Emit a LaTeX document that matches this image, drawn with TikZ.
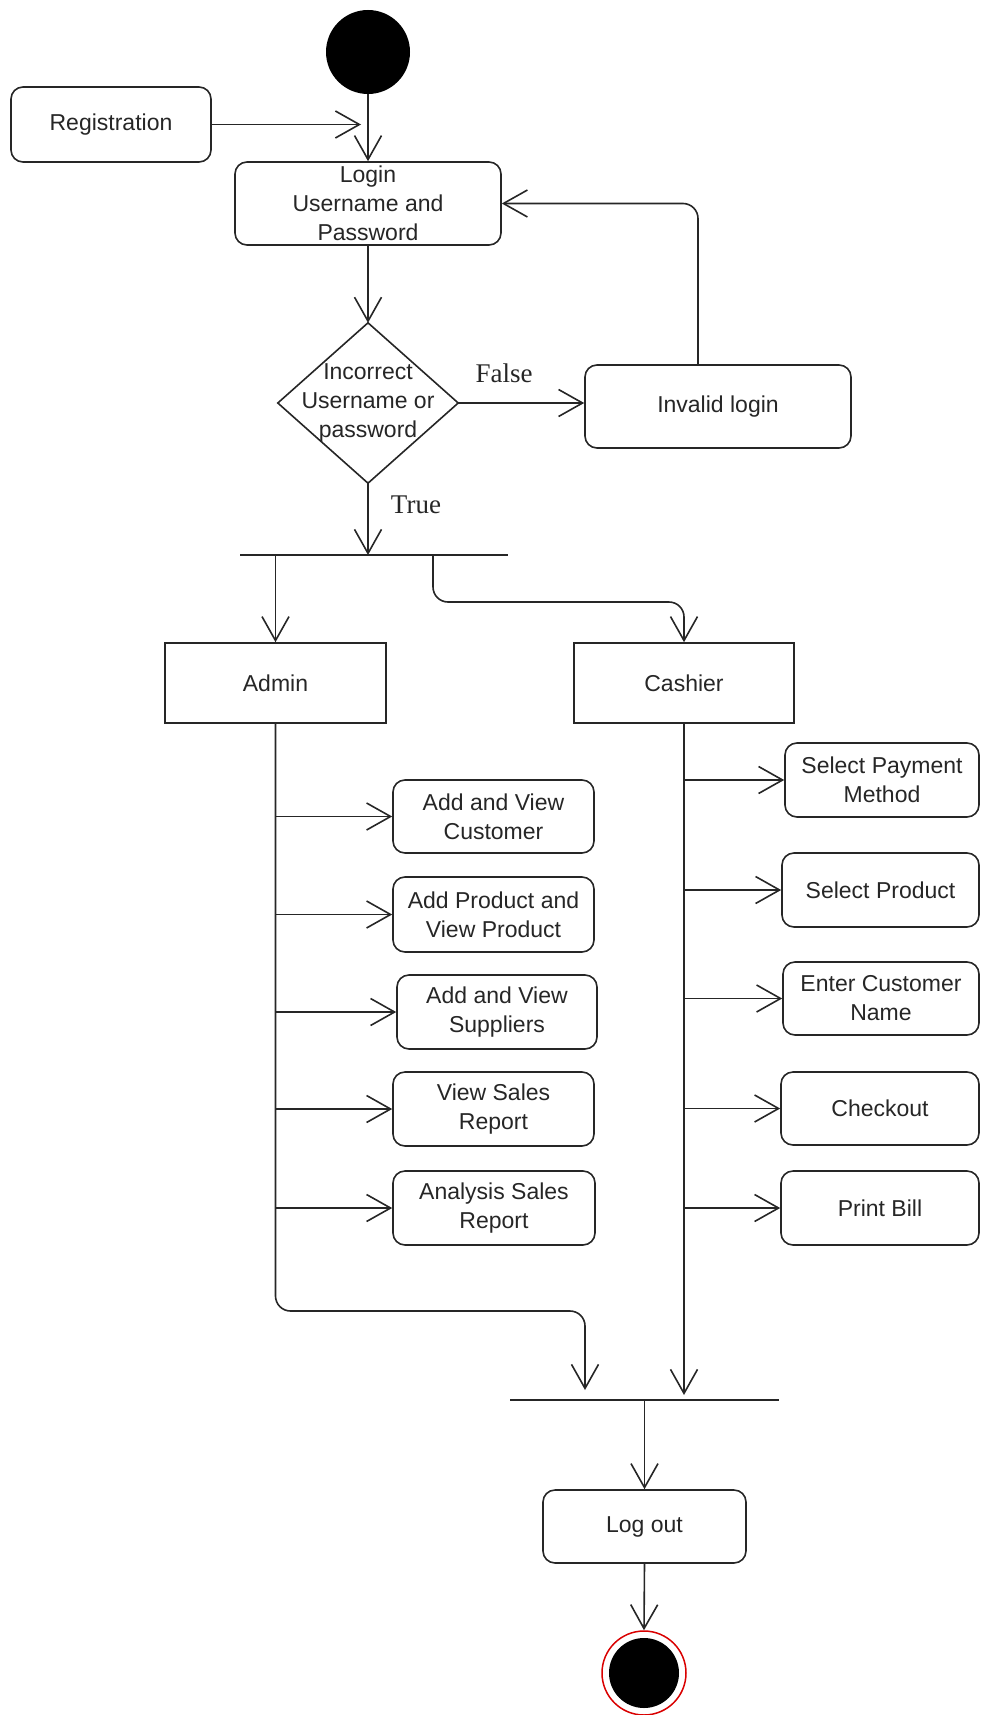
\documentclass[tikz,border=0pt]{standalone}
\usepackage{fontspec}
\setmainfont{Liberation Sans}
\newfontfamily\labelserif{Liberation Serif}
\usetikzlibrary{arrows.meta}

\begin{document}
\begin{tikzpicture}[x=1pt,y=-1pt,
  ln/.style={line width=1.6pt, draw=black!85},
  arr/.style={ln, -{Straight Barb[length=24pt,width=27pt,line width=1.6pt]}},
  txt/.style={align=center, font=\fontsize{23}{29}\selectfont, text=black!85, inner sep=0pt},
  act/.style={ln, txt, rounded corners=12pt},
  role/.style={ln, txt},
  guard/.style={font=\labelserif\fontsize{27}{30}\selectfont, text=black!85, inner sep=0pt},
  barline/.style={line width=2pt, draw=black!85},
]
\useasboundingbox (0,0) rectangle (980,1715);

% start, registration and login
\node[circle, fill=black, minimum size=84pt, inner sep=0pt] (start) at (368,52) {};
\node[act, minimum width=200pt, minimum height=75pt] (reg) at (111,124.5) {Registration};
\node[act, minimum width=266pt, minimum height=83pt] (login) at (368,203.5) {Login\\Username and\\Password};
\coordinate (regin) at (361,124.5);
\draw[arr] (start.south) -- (login.north);
\draw[arr] (reg.east) -- (regin);

% credential check
\node[minimum width=180pt, minimum height=160pt, inner sep=0pt] (dec) at (368,403) {};
\draw[ln, line join=miter] (dec.north) -- (dec.east) -- (dec.south) -- (dec.west) -- cycle;
\node[txt] (dectext) at (368,403) {Incorrect\\Username or\\password};
\draw[arr] (login.south) -- (dec.north);

\node[act, minimum width=266pt, minimum height=83pt] (invalid) at (718,406.5) {Invalid login};
\draw[arr] (dec.east) -- (dec.east -| invalid.west);
\node[guard] (false) at (504,373) {False};
\draw[arr, rounded corners=15pt] ([xshift=-20pt]invalid.north) |- (login.east);

% fork into the two roles
\coordinate (f1L) at (240,555);
\coordinate (f1R) at (508,555);
\coordinate (f1c) at (433,555);
\draw[barline] (f1L) -- (f1R);
\draw[arr] (dec.south) -- (dec.south |- f1L);
\node[guard] (true) at (416,505) {True};

\node[role, minimum width=221pt, minimum height=80pt] (admin) at (275.5,683) {Admin};
\node[role, minimum width=220pt, minimum height=80pt] (cashier) at (684,683) {Cashier};
\draw[arr] (admin.north |- f1L) -- (admin.north);
\draw[arr, rounded corners=15pt] (f1c) -- ++(0,47) -| (cashier.north);

% admin activities
\node[act, minimum width=201pt, minimum height=73pt] (a1) at (493.5,816.5) {Add and View\\Customer};
\node[act, minimum width=201pt, minimum height=75pt] (a2) at (493.5,914.5) {Add Product and\\View Product};
\node[act, minimum width=200pt, minimum height=74pt] (a3) at (497,1012) {Add and View\\Suppliers};
\node[act, minimum width=201pt, minimum height=74pt] (a4) at (493.5,1109) {View Sales\\Report};
\node[act, minimum width=202pt, minimum height=74pt] (a5) at (494,1208) {Analysis Sales\\Report};
\foreach \n in {a1,a2,a3,a4,a5}
  \draw[arr] (\n.west -| admin.south) -- (\n.west);

% cashier activities
\node[act, minimum width=194pt, minimum height=74pt] (c1) at (882,780) {Select Payment\\Method};
\node[act, minimum width=197pt, minimum height=74pt] (c2) at (880.5,890) {Select Product};
\node[act, minimum width=196pt, minimum height=73pt] (c3) at (881,998.5) {Enter Customer\\Name};
\node[act, minimum width=198pt, minimum height=73pt] (c4) at (880,1108.5) {Checkout};
\node[act, minimum width=198pt, minimum height=74pt] (c5) at (880,1208) {Print Bill};
\foreach \n in {c1,c2,c3,c4,c5}
  \draw[arr] (\n.west -| cashier.south) -- (\n.west);

% join and logout
\coordinate (j1L) at (510,1400);
\coordinate (j1R) at (779,1400);
\coordinate (ajoin) at (585,1390);
\coordinate (cjoin) at (684,1395);
\draw[barline] (j1L) -- (j1R);
\draw[arr, rounded corners=15pt] (admin.south) -- (admin.south |- 0,1311) -| (ajoin);
\draw[arr] (cashier.south) -- (cjoin);

\node[act, minimum width=203pt, minimum height=73pt] (logout) at (644.5,1526.5) {Log out};
\draw[arr] (logout.north |- j1L) -- (logout.north);

% final state
\node[circle, draw=red!85!black, line width=1.5pt, minimum size=84pt, inner sep=0pt] (end) at (644,1673) {};
\fill[black] (end.center) circle[radius=35pt];
\draw[arr] (logout.south) -- (end.north);
\end{tikzpicture}
\end{document}
